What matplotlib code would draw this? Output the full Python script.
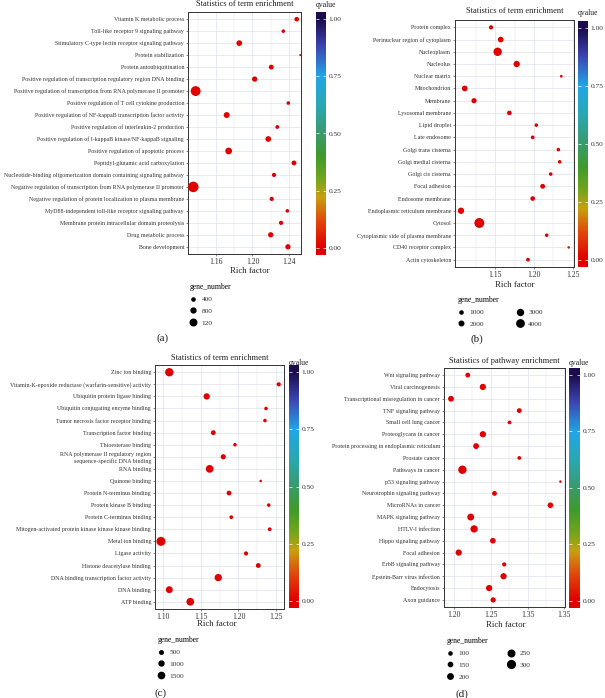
import numpy as np
import matplotlib
matplotlib.use('Agg')
import matplotlib.pyplot as plt
from matplotlib.colors import LinearSegmentedColormap, Normalize
from matplotlib.lines import Line2D

plt.rcParams['font.family'] = ['Liberation Serif', 'DejaVu Serif']

W, H = 605, 698

# ---- datos (a) ----
terms_a = ['Vitamin K metabolic process', 'Toll-like receptor 9 signaling pathway',
           'Stimulatory C-type lectin receptor signaling pathway', 'Protein stabilization',
           'Protein autoubiquitination',
           'Positive regulation of transcription regulatory region DNA binding',
           'Positive regulation of transcription from RNA polymerase II promoter',
           'Positive regulation of T cell cytokine production',
           'Positive regulation of NF-kappaB transcription factor activity',
           'Positive regulation of interleukin-2 production',
           'Positive regulation of I-kappaB kinase/NF-kappaB signaling',
           'Positive regulation of apoptotic process', 'Peptidyl-glutamic acid carboxylation',
           'Nucleotide-binding oligomerization domain containing signaling pathway',
           'Negative regulation of transcription from RNA polymerase II promoter',
           'Negative regulation of protein localization to plasma membrane',
           'MyD88-independent toll-like receptor signaling pathway',
           'Membrane protein intracellular domain proteolysis', 'Drug metabolic process',
           'Bone development']
rich_a = [1.2485, 1.2338, 1.1855, 1.2525, 1.2206, 1.2024, 1.1377, 1.2393, 1.1717, 1.2272,
          1.2173, 1.1739, 1.2455, 1.2236, 1.1351, 1.2211, 1.2382, 1.2313, 1.2200, 1.2389]
genes_a = [750, 500, 1000, 150, 800, 900, 2000, 500, 1050, 550,
           1000, 1250, 800, 650, 2150, 650, 500, 650, 900, 900]
qvalue_a = [0.00, 0.00, 0.00, 0.01, 0.00, 0.00, 0.00, 0.00, 0.00, 0.00,
            0.00, 0.00, 0.00, 0.00, 0.00, 0.00, 0.00, 0.00, 0.00, 0.00]

# ---- datos (b) ----
terms_b = ['Protein complex', 'Perinuclear region of cytoplasm', 'Nucleoplasm', 'Nucleolus',
           'Nuclear matrix', 'Mitochondrion', 'Membrane', 'Lysosomal membrane', 'Lipid droplet',
           'Late endosome', 'Golgi trans cisterna', 'Golgi medial cisterna', 'Golgi cis cisterna',
           'Focal adhesion', 'Endosome membrane', 'Endoplasmic reticulum membrane', 'Cytosol',
           'Cytoplasmic side of plasma membrane', 'CD40 receptor complex', 'Actin cytoskeleton']
rich_b = [1.1449, 1.1573, 1.1534, 1.1778, 1.2350, 1.1112, 1.1231, 1.1684, 1.2030, 1.1983,
          1.2312, 1.2329, 1.2214, 1.2111, 1.1983, 1.1064, 1.1299, 1.2163, 1.2445, 1.1923]
genes_b = [1750, 2800, 4750, 3250, 700, 2800, 2500, 2050, 1300, 1450,
           1300, 1300, 1300, 2200, 2050, 3250, 5800, 1300, 550, 1450]
qvalue_b = [0.00, 0.00, 0.00, 0.00, 0.01, 0.00, 0.00, 0.00, 0.00, 0.00,
            0.00, 0.00, 0.00, 0.00, 0.00, 0.00, 0.00, 0.00, 0.01, 0.00]

# ---- datos (c) ----
terms_c = ['Zinc ion binding', 'Vitamin-K-epoxide reductase (warfarin-sensitive) activity',
           'Ubiquitin protein ligase binding', 'Ubiquitin conjugating enzyme binding',
           'Tumor necrosis factor receptor binding', 'Transcription factor binding',
           'Thioesterase binding',
           'RNA polymerase II regulatory region\nsequence-specific DNA binding',
           'RNA binding', 'Quinone binding', 'Protein N-terminus binding',
           'Protein kinase B binding', 'Protein C-terminus binding',
           'Mitogen-activated protein kinase kinase kinase binding', 'Metal ion binding',
           'Ligase activity', 'Histone deacetylase binding',
           'DNA binding transcription factor activity', 'DNA binding', 'ATP binding']
rich_c = [1.1080, 1.2535, 1.1577, 1.2366, 1.2352, 1.1665, 1.1953, 1.1798, 1.1617, 1.2295,
          1.1874, 1.2402, 1.1904, 1.2415, 1.0969, 1.2100, 1.2263, 1.1731, 1.1080, 1.1359]
genes_c = [2270, 730, 1500, 500, 500, 960, 500, 1115, 2040, 120,
           960, 500, 580, 580, 2500, 730, 960, 1885, 1730, 2040]
qvalue_c = [0.00, 0.00, 0.00, 0.00, 0.00, 0.00, 0.00, 0.00, 0.00, 0.01,
            0.00, 0.00, 0.00, 0.00, 0.00, 0.00, 0.00, 0.00, 0.00, 0.00]

# ---- datos (d) ----
terms_d = ['Wnt signaling pathway', 'Viral carcinogenesis',
           'Transcriptional misregulation in cancer', 'TNF signaling pathway',
           'Small cell lung cancer', 'Proteoglycans in cancer',
           'Protein processing in endoplasmic reticulum', 'Prostate cancer',
           'Pathways in cancer', 'p53 signaling pathway', 'Neurotrophin signaling pathway',
           'MicroRNAs in cancer', 'MAPK signaling pathway', 'HTLV-I infection',
           'Hippo signaling pathway', 'Focal adhesion', 'ErbB signaling pathway',
           'Epstein-Barr virus infection', 'Endocytosis', 'Axon guidance']
rich_d = [1.2187, 1.2392, 1.1959, 1.2887, 1.2754, 1.2392, 1.2300, 1.2887, 1.2114, 1.3446,
          1.2550, 1.3310, 1.2227, 1.2273, 1.2528, 1.2064, 1.2682, 1.2673, 1.2477, 1.2532]
genes_d = [173, 236, 218, 173, 127, 236, 218, 127, 327, 73,
           173, 209, 264, 282, 209, 236, 145, 236, 236, 191]
qvalue_d = [0.00, 0.00, 0.00, 0.00, 0.00, 0.00, 0.00, 0.00, 0.00, 0.01,
            0.00, 0.00, 0.00, 0.00, 0.00, 0.00, 0.00, 0.00, 0.00, 0.00]

# escala de color del qvalue (tipo ggplot gradientn)
cmap = LinearSegmentedColormap.from_list('qvalue', [
    (0.00, '#e00000'), (0.12, '#e04a0c'), (0.22, '#c8a010'), (0.30, '#72a61e'),
    (0.40, '#3f9a2a'), (0.50, '#3a9a6c'), (0.62, '#2aa8b0'), (0.75, '#22a6e6'),
    (0.88, '#3c46b4'), (1.00, '#1c0c4c')])
norm = Normalize(0, 1)

TXT = '#333333'
GRID = '#e3e6ee'


def rect(l, t, r, b):
    return [l / W, 1 - b / H, (r - l) / W, (b - t) / H]


def radius_px(g, a, b):
    return a + b * np.asarray(g, dtype=float)


panels = [
    dict(terms=terms_a, rich=rich_a, genes=genes_a, q=qvalue_a,
         box=(188, 12, 301, 254), xlim=(1.1293, 1.2532),
         xticks=[1.16, 1.20, 1.24], xlabels=['1.16', '1.20', '1.24'],
         minor=[1.14, 1.18, 1.22],
         title='Statistics of term enrichment', title_y=4,
         cbar=(316, 326, 248, 19), q_xy=(316, 5),
         rf_xy=(250, 271), size=(0.75, 0.0021),
         leg_vals=[400, 800, 1200], leg_labels=['400', '800', '120'], leg_ncol=1,
         colsp=2.2, leg_xy=(186, 279), tag='(a)', tag_xy=(163, 338)),
    dict(terms=terms_b, rich=rich_b, genes=genes_b, q=qvalue_b,
         box=(455, 20, 574, 267), xlim=(1.0987, 1.2513),
         xticks=[1.15, 1.20, 1.25], xlabels=['1.15', '1.20', '1.25'],
         minor=[1.125, 1.175, 1.225],
         title='Statistics of term enrichment', title_y=11,
         cbar=(578, 588, 260, 28), q_xy=(578, 13),
         rf_xy=(515, 285), size=(0.88, 0.0007),
         leg_vals=[1000, 2000, 3000, 4000], leg_labels=['1000', '2000', '3000', '4000'],
         leg_ncol=2, colsp=4.4, leg_xy=(454, 292), tag='(b)', tag_xy=(477, 339)),
    dict(terms=terms_c, rich=rich_c, genes=genes_c, q=qvalue_c,
         box=(155, 365, 284, 609), xlim=(1.0890, 1.2605),
         xticks=[1.10, 1.15, 1.20, 1.25], xlabels=['1.10', '1.15', '1.20', '1.25'],
         minor=[1.125, 1.175, 1.225],
         title='Statistics of term enrichment', title_y=358,
         cbar=(289, 299, 601, 372), q_xy=(289, 363),
         rf_xy=(217, 624), size=(1.1, 0.00136),
         leg_vals=[500, 1000, 1500], leg_labels=['500', '1000', '1500'], leg_ncol=1,
         colsp=2.2, leg_xy=(154, 632), tag='(c)', tag_xy=(161, 693)),
    dict(terms=terms_d, rich=rich_d, genes=genes_d, q=qvalue_d,
         box=(444, 368, 565, 607), xlim=(1.1864, 1.3508),
         xticks=[1.20, 1.25, 1.30, 1.35], xlabels=['1.20', '1.25', '1.35', '1.35'],
         minor=[1.225, 1.275, 1.325],
         title='Statistics of pathway enrichment', title_y=361,
         cbar=(569, 580, 601, 375), q_xy=(569, 363),
         rf_xy=(506, 625), size=(0.42, 0.0115),
         leg_vals=[100, 150, 200, 250, 300], leg_labels=['100', '150', '200', '250', '300'],
         leg_ncol=2, colsp=5.2, leg_xy=(443, 633), tag='(d)', tag_xy=(462, 694)),
]

fig = plt.figure(figsize=(W / 100, H / 100), dpi=100)

for p in panels:
    l, t, r, b = p['box']
    ax = fig.add_axes(rect(l, t, r, b))
    n = len(p['terms'])
    ypos = np.arange(n)[::-1]
    a_, b_ = p['size']
    s = (2 * 0.72 * radius_px(p['genes'], a_, b_)) ** 2
    ax.scatter(p['rich'], ypos, s=s, c=p['q'], cmap=cmap, norm=norm,
               linewidths=0, zorder=3, clip_on=False)
    ax.set_xlim(*p['xlim'])
    ax.set_ylim(-0.6, n - 0.4)
    ax.set_yticks(ypos)
    ax.set_yticklabels(p['terms'], fontsize=4.3, color=TXT)
    ax.set_xticks(p['xticks'])
    ax.set_xticklabels(p['xlabels'], fontsize=5.5, color=TXT)
    ax.set_xticks(p['minor'], minor=True)
    ax.tick_params(axis='both', which='major', length=1.6, width=0.4, color=TXT, pad=1.2)
    ax.tick_params(axis='x', which='minor', length=0)
    ax.grid(True, which='major', color=GRID, linewidth=0.6, zorder=0)
    ax.grid(True, which='minor', axis='x', color=GRID, linewidth=0.35, zorder=0)
    ax.set_axisbelow(True)
    for sp in ax.spines.values():
        sp.set_color('#333333')
        sp.set_linewidth(0.7)

    # titulo y etiqueta
    fig.text((l + r) / 2 / W, 1 - p['title_y'] / H, p['title'], ha='center', va='center',
             fontsize=6, color='#222222')
    fig.text(p['rf_xy'][0] / W, 1 - p['rf_xy'][1] / H, 'Rich factor', ha='center',
             va='center', fontsize=6.3, color='#222222')
    fig.text(p['tag_xy'][0] / W, 1 - p['tag_xy'][1] / H, p['tag'], ha='center',
             va='center', fontsize=8, color='#222222')

    # barra de color qvalue
    cl, cr, y0, y1 = p['cbar']
    ppu = y0 - y1
    lo, hi = -0.03, 1.03
    cax = fig.add_axes(rect(cl, y1 - (hi - 1) * ppu, cr, y0 - lo * ppu))
    grad = np.linspace(lo, hi, 300).reshape(-1, 1)
    cax.imshow(grad, extent=[0, 1, lo, hi], origin='lower', aspect='auto',
               cmap=cmap, norm=norm)
    cax.set_xlim(0, 1)
    cax.set_ylim(lo, hi)
    cax.set_xticks([])
    cax.yaxis.tick_right()
    cax.set_yticks([0, 0.25, 0.5, 0.75, 1.0])
    cax.set_yticklabels(['0.00', '0.25', '0.50', '0.75', '1.00'], fontsize=5.3, color=TXT)
    cax.tick_params(axis='y', direction='in', length=2, width=0.5, color='white',
                    left=True, right=True, pad=2)
    for sp in cax.spines.values():
        sp.set_visible(False)
    fig.text(p['q_xy'][0] / W, 1 - p['q_xy'][1] / H, 'qvalue', ha='left', va='center',
             fontsize=5.5, color='#222222')

    # leyenda gene_number
    handles = [Line2D([], [], marker='o', linestyle='', color='black',
                      markersize=2 * 0.72 * float(radius_px(v, a_, b_)))
               for v in p['leg_vals']]
    leg = fig.legend(handles, p['leg_labels'], title='gene_number', ncol=p['leg_ncol'],
                     loc='upper left',
                     bbox_to_anchor=(p['leg_xy'][0] / W, 1 - p['leg_xy'][1] / H),
                     frameon=False, fontsize=5.3, title_fontsize=5.5, borderpad=0,
                     handlelength=1.0, handletextpad=0.6, labelspacing=0.75,
                     columnspacing=p['colsp'], alignment='left')
    for txt in leg.get_texts():
        txt.set_color(TXT)

fig.savefig('out.png', dpi=100)
